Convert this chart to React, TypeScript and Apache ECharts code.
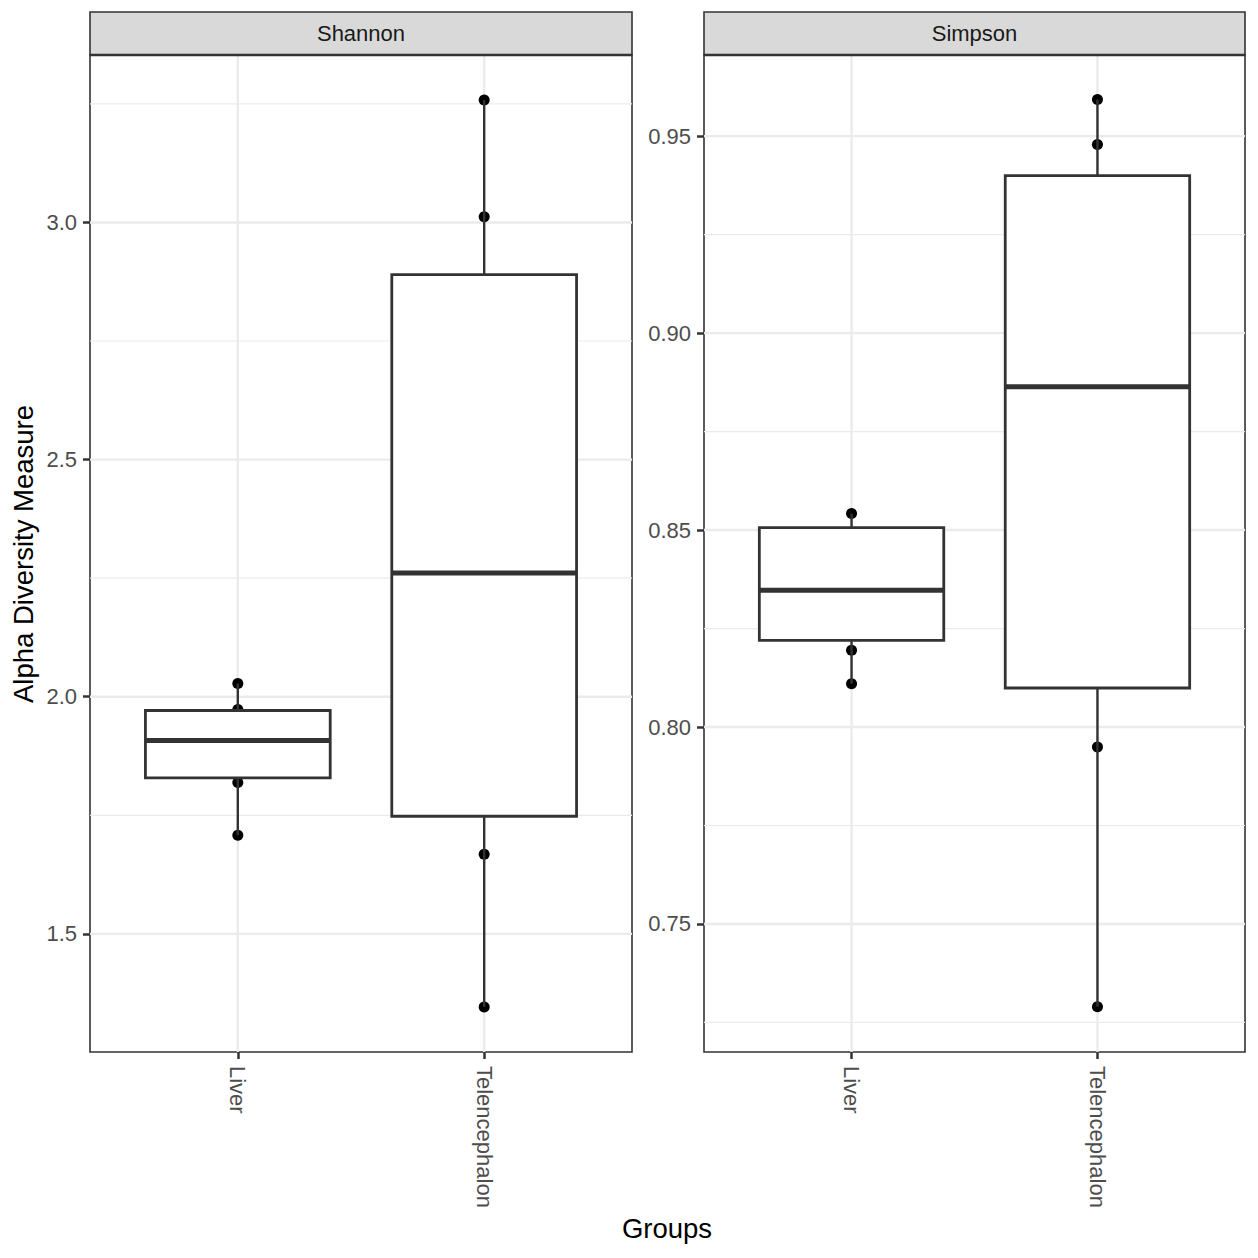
import React, { useEffect, useRef } from "react";
import * as echarts from "echarts";

// Groups on the discrete x axis (placed at 1 and 2)
const groups = ["Liver", "Telencephalon"];

// Facet panels
const facets = ["Shannon", "Simpson"];

// Individual sample points per facet: [group position, value]
const shannonPoints: number[][] = [
  [1, 2.028], [1, 1.973], [1, 1.819], [1, 1.708],
  [2, 3.258], [2, 3.012], [2, 1.668], [2, 1.346],
];
const simpsonPoints: number[][] = [
  [1, 0.8542], [1, 0.8195], [1, 0.811],
  [2, 0.9593], [2, 0.9479], [2, 0.7949], [2, 0.729],
];

// Box summaries: [group position, lower whisker, Q1, median, Q3, upper whisker]
const shannonBoxes: number[][] = [
  [1, 1.708, 1.829, 1.908, 1.971, 2.028],
  [2, 1.346, 1.748, 2.261, 2.89, 3.258],
];
const simpsonBoxes: number[][] = [
  [1, 0.811, 0.822, 0.8347, 0.8506, 0.8542],
  [2, 0.729, 0.8099, 0.8864, 0.94, 0.9593],
];

// Axis ticks (major) and minor grid positions
const shannonTicks = [1.5, 2.0, 2.5, 3.0];
const shannonMinor = [1.75, 2.25, 2.75, 3.25];
const simpsonTicks = [0.75, 0.8, 0.85, 0.9, 0.95];
const simpsonMinor = [0.725, 0.775, 0.825, 0.875, 0.925];

const shannonRange = [1.251, 3.353];
const simpsonRange = [0.7175, 0.9706];
const xRange = [0.4, 2.6];

const FONT = "'Liberation Sans', Arial, Helvetica, sans-serif";
const INK = "#333333";
const BOX_HALF = 0.375;

function gridLineData(major: number[], minor: number[]) {
  const rows: number[][] = [];
  minor.forEach((v) => rows.push([v, 1]));
  major.forEach((v) => rows.push([v, 0]));
  [1, 2].forEach((v) => rows.push([v, 2]));
  return rows;
}

function gridLineSeries(idx: number, major: number[], minor: number[]) {
  return {
    type: "custom",
    xAxisIndex: idx,
    yAxisIndex: idx,
    z: 1,
    silent: true,
    data: gridLineData(major, minor),
    renderItem: (params: any, api: any) => {
      const v = api.value(0);
      const kind = api.value(1);
      const cs = params.coordSys;
      if (kind === 2) {
        const x = api.coord([v, major[0]])[0];
        return {
          type: "line",
          shape: { x1: x, y1: cs.y, x2: x, y2: cs.y + cs.height },
          style: { stroke: "#EBEBEB", lineWidth: 2.4 },
        };
      }
      const y = api.coord([1, v])[1];
      return {
        type: "line",
        shape: { x1: cs.x, y1: y, x2: cs.x + cs.width, y2: y },
        style: { stroke: "#EBEBEB", lineWidth: kind === 0 ? 2.4 : 1.2 },
      };
    },
  };
}

function pointSeries(idx: number, pts: number[][]) {
  return {
    type: "scatter",
    xAxisIndex: idx,
    yAxisIndex: idx,
    z: 2,
    symbol: "circle",
    symbolSize: 11,
    itemStyle: { color: "#000000", opacity: 1 },
    data: pts,
  };
}

function boxSeries(idx: number, boxes: number[][]) {
  return {
    type: "custom",
    xAxisIndex: idx,
    yAxisIndex: idx,
    z: 3,
    data: boxes,
    renderItem: (_params: any, api: any) => {
      const x = api.value(0);
      const lo = api.value(1);
      const q1 = api.value(2);
      const med = api.value(3);
      const q3 = api.value(4);
      const hi = api.value(5);
      const [xl, yq3] = api.coord([x - BOX_HALF, q3]);
      const [xr, yq1] = api.coord([x + BOX_HALF, q1]);
      const [xc, yhi] = api.coord([x, hi]);
      const ylo = api.coord([x, lo])[1];
      const ymed = api.coord([x, med])[1];
      return {
        type: "group",
        children: [
          { type: "line", shape: { x1: xc, y1: yhi, x2: xc, y2: yq3 }, style: { stroke: INK, lineWidth: 2.4 } },
          { type: "line", shape: { x1: xc, y1: yq1, x2: xc, y2: ylo }, style: { stroke: INK, lineWidth: 2.4 } },
          {
            type: "rect",
            shape: { x: xl, y: yq3, width: xr - xl, height: yq1 - yq3 },
            style: { fill: "#ffffff", stroke: INK, lineWidth: 2.8 },
          },
          { type: "line", shape: { x1: xl, y1: ymed, x2: xr, y2: ymed }, style: { stroke: INK, lineWidth: 5 } },
        ],
      };
    },
  };
}

function xAxis(idx: number) {
  return {
    type: "value",
    gridIndex: idx,
    min: xRange[0],
    max: xRange[1],
    axisLine: { show: false },
    splitLine: { show: false },
    axisTick: { show: true, length: 7, customValues: [1, 2], lineStyle: { color: INK, width: 2.5 } },
    axisLabel: {
      show: true,
      customValues: [1, 2],
      rotate: -90,
      margin: 14,
      color: "#4D4D4D",
      fontSize: 22,
      fontFamily: FONT,
      formatter: (v: number) => groups[Math.round(v) - 1],
    },
  };
}

function yAxis(idx: number, range: number[], ticks: number[], digits: number) {
  return {
    type: "value",
    gridIndex: idx,
    min: range[0],
    max: range[1],
    axisLine: { show: false },
    splitLine: { show: false },
    axisTick: { show: true, length: 7, customValues: ticks, lineStyle: { color: INK, width: 2.5 } },
    axisLabel: {
      show: true,
      customValues: ticks,
      margin: 13,
      color: "#4D4D4D",
      fontSize: 22,
      fontFamily: FONT,
      formatter: (v: number) => v.toFixed(digits),
    },
  };
}

const panels = [
  { left: 90, width: 542 },
  { left: 704, width: 541 },
];

export default function App() {
  const ref = useRef<HTMLDivElement>(null);

  useEffect(() => {
    if (!ref.current) return;
    const chart = echarts.init(ref.current, undefined, { renderer: "svg" });

    const strips: any[] = [];
    panels.forEach((p, i) => {
      strips.push({
        type: "rect",
        shape: { x: p.left, y: 12, width: p.width, height: 43 },
        style: { fill: "#D9D9D9", stroke: INK, lineWidth: 1.6 },
        z: 10,
      });
      strips.push({
        type: "line",
        shape: { x1: p.left, y1: 55, x2: p.left + p.width, y2: 55 },
        style: { stroke: INK, lineWidth: 2.6 },
        z: 10,
      });
      strips.push({
        type: "text",
        x: p.left + p.width / 2,
        y: 33.5,
        style: {
          text: facets[i],
          fill: "#1A1A1A",
          font: `22px ${FONT}`,
          textAlign: "center",
          textVerticalAlign: "middle",
        },
        z: 11,
      });
    });

    chart.setOption({
      animation: false,
      backgroundColor: "#ffffff",
      grid: panels.map((p) => ({
        left: p.left,
        top: 55,
        width: p.width,
        height: 997,
        show: true,
        backgroundColor: "transparent",
        borderColor: INK,
        borderWidth: 1.6,
        containLabel: false,
      })),
      xAxis: [xAxis(0), xAxis(1)],
      yAxis: [
        yAxis(0, shannonRange, shannonTicks, 1),
        yAxis(1, simpsonRange, simpsonTicks, 2),
      ],
      series: [
        gridLineSeries(0, shannonTicks, shannonMinor),
        gridLineSeries(1, simpsonTicks, simpsonMinor),
        pointSeries(0, shannonPoints),
        pointSeries(1, simpsonPoints),
        boxSeries(0, shannonBoxes),
        boxSeries(1, simpsonBoxes),
      ],
      graphic: [
        ...strips,
        {
          type: "text",
          x: 23,
          y: 554,
          rotation: Math.PI / 2,
          style: {
            text: "Alpha Diversity Measure",
            fill: "#000000",
            font: `27.5px ${FONT}`,
            textAlign: "center",
            textVerticalAlign: "middle",
          },
        },
        {
          type: "text",
          x: 667,
          y: 1228,
          style: {
            text: "Groups",
            fill: "#000000",
            font: `27.5px ${FONT}`,
            textAlign: "center",
            textVerticalAlign: "middle",
          },
        },
      ],
    });

    return () => chart.dispose();
  }, []);

  return (
    <div
      ref={ref}
      style={{ position: "fixed", left: 0, top: 0, width: 1258, height: 1258, background: "#ffffff" }}
    />
  );
}
